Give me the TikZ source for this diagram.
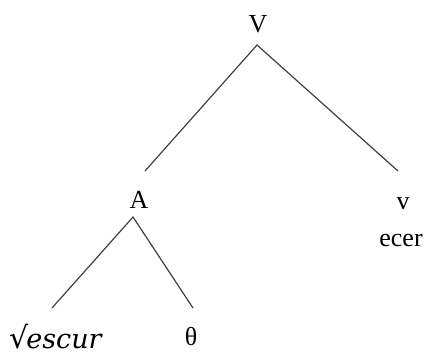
\documentclass[tikz,border=0pt]{standalone}
\usepackage{fontspec}
\setmainfont{Liberation Serif}
\newfontfamily\dejaserif{DejaVu Serif}
\begin{document}
\begin{tikzpicture}[x=1pt,y=-1pt,
  lbl/.style={inner sep=0pt,anchor=center,font=\fontsize{26}{28}\selectfont},
  edge/.style={draw=black!75,line width=1.2pt}]
\useasboundingbox (0,0) rectangle (430,354);
\node[lbl] (V) at (258,24) {V};
\node[lbl] (A) at (139,200) {A};
\node[lbl] (v) at (403,204) {v};
\node[lbl,anchor=base] (ecer) at (401,246) {ecer};
\node[lbl,anchor=base west] (root) at (9,348) {{\dejaserif\fontsize{30}{32}\selectfont √}\kern-2pt{\dejaserif\itshape\fontsize{27}{29}\selectfont escur}};
\node[lbl] (theta) at (191,337) {θ};
\coordinate (Vb) at (257,45);
\coordinate (Ab) at (133,217);
\coordinate (Vl) at (145,171);
\coordinate (Vr) at (398,171);
\coordinate (Al) at (52,308);
\coordinate (Ar) at (193,308);
\draw[edge] (Vl) -- (Vb) -- (Vr);
\draw[edge] (Al) -- (Ab) -- (Ar);
\end{tikzpicture}
\end{document}
